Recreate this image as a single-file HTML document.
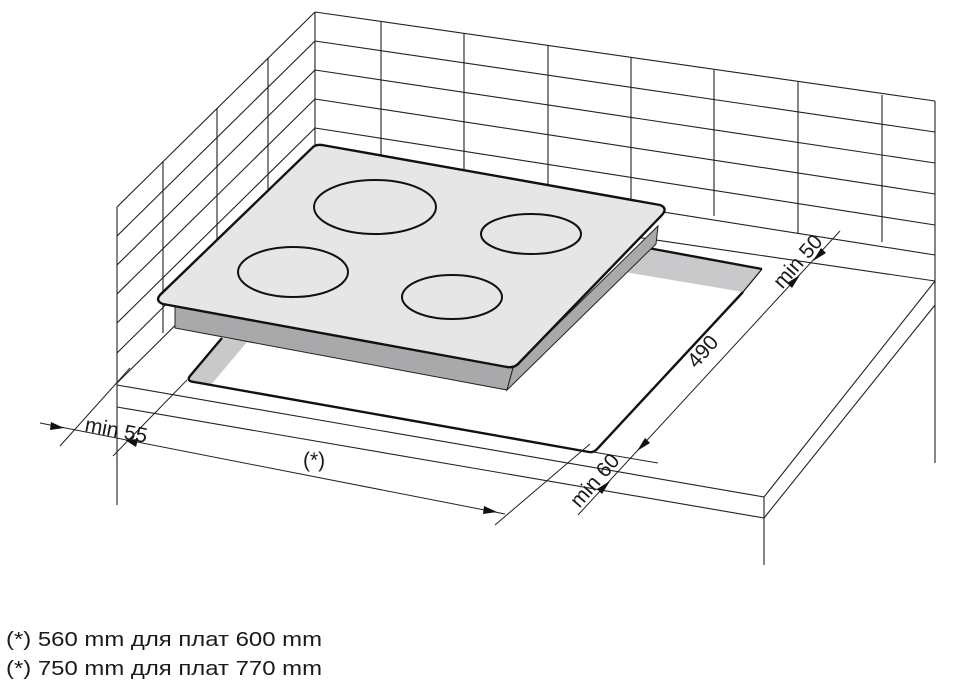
<!DOCTYPE html>
<html><head><meta charset="utf-8"><style>
html,body{margin:0;padding:0;background:#fff;}
svg{display:block;}
text{font-family:"Liberation Sans",Arial,sans-serif;fill:#1a1a1a;}
</style></head><body>
<svg width="956" height="689" viewBox="0 0 956 689" xmlns="http://www.w3.org/2000/svg">
<g stroke="#222" stroke-width="1.1" fill="none">
<line x1="315" y1="12" x2="935" y2="101"/>
<line x1="315" y1="41" x2="935" y2="132"/>
<line x1="315" y1="70" x2="935" y2="163"/>
<line x1="315" y1="99" x2="935" y2="194"/>
<line x1="315" y1="128" x2="935" y2="225"/>
<line x1="315" y1="157" x2="935" y2="255"/>
<line x1="315" y1="190" x2="935" y2="281"/>
<line x1="315" y1="12" x2="315" y2="190"/>
<line x1="381" y1="22" x2="381" y2="200"/>
<line x1="464" y1="34" x2="464" y2="212"/>
<line x1="548" y1="46" x2="548" y2="224"/>
<line x1="631" y1="58" x2="631" y2="236"/>
<line x1="714" y1="70" x2="714" y2="216"/>
<line x1="798" y1="82" x2="798" y2="234"/>
<line x1="882" y1="95" x2="882" y2="242"/>
<line x1="935" y1="101" x2="935" y2="463"/>
<line x1="315" y1="12" x2="117" y2="207"/>
<line x1="315" y1="41" x2="117" y2="236"/>
<line x1="315" y1="70" x2="117" y2="265"/>
<line x1="315" y1="99" x2="117" y2="294"/>
<line x1="315" y1="128" x2="117" y2="323"/>
<line x1="315" y1="157" x2="117" y2="353"/>
<line x1="315" y1="187" x2="117" y2="383"/>
<line x1="117" y1="207" x2="117" y2="505"/>
<line x1="163" y1="161" x2="163" y2="333"/>
<line x1="217" y1="108" x2="217" y2="283"/>
<line x1="268" y1="58" x2="268" y2="233"/>
<line x1="117" y1="385" x2="764" y2="497"/>
<line x1="117" y1="407" x2="764" y2="518"/>
<line x1="935" y1="281" x2="764" y2="497"/>
<line x1="935" y1="305" x2="764" y2="518"/>
<line x1="764" y1="497" x2="764" y2="565"/>
</g>
<polygon points="188,380 222,338 247,342 210,386" fill="#c9c9cb"/>
<polygon points="648,248 762,269 743,292 625,272" fill="#c9c9cb"/>
<path d="M222,338 L190,376 Q186,381 194,382 L589,452 Q594,453 598,448 L743,292 M762,269 L648,248" stroke="#111" stroke-width="2.4" fill="none"/>
<path d="M762,269 L743,292" stroke="#111" stroke-width="1.2"/>
<polygon points="175,306 175,328 507,390 513,368" fill="#a9a9ab" stroke="#222" stroke-width="1"/>
<polygon points="513,368 507,390 656,244 658,226" fill="#a9a9ab" stroke="#222" stroke-width="1"/>
<path d="M322,145 L660,205 Q668,208 662,215 L518,364 Q514,368 507,367 L163,304 Q155,301 160,295 L311,149 Q315,144 322,145 Z" fill="#e6e6e7" stroke="#111" stroke-width="2.4"/>
<g fill="none" stroke="#111" stroke-width="2">
<ellipse cx="375" cy="207" rx="61" ry="27"/>
<ellipse cx="531" cy="234" rx="50" ry="20"/>
<ellipse cx="293" cy="272" rx="55" ry="25"/>
<ellipse cx="452" cy="297" rx="50" ry="22"/>
</g>
<g stroke="#222" stroke-width="1" fill="none">
<line x1="840" y1="231" x2="578" y2="515"/>
<line x1="593" y1="452" x2="658" y2="463"/>
<line x1="40" y1="423" x2="505" y2="514"/>
<line x1="60" y1="446" x2="130" y2="368"/>
<line x1="113" y1="456" x2="187" y2="380"/>
<line x1="495" y1="525" x2="590" y2="444"/>
</g>
<g fill="#111">
<polygon points="813,261 821,248 826,253"/>
<polygon points="800,275 792,288 787,283"/>
<polygon points="637,451 645,438 650,443"/>
<polygon points="610,481 602,494 597,489"/>
<polygon points="64,428 51,422 50,430"/>
<polygon points="125,440 138,439 136,447"/>
<polygon points="497,512 484,506 483,514"/>
</g>
<g font-size="21">
<text x="0" y="0" transform="translate(84,431) rotate(11)">min 55</text>
<text x="303" y="467">(*)</text>
<text x="0" y="0" text-anchor="middle" transform="translate(708,356) rotate(-49)">490</text>
<text x="0" y="0" text-anchor="middle" transform="translate(803,266) rotate(-49)">min 50</text>
<text x="0" y="0" text-anchor="middle" transform="translate(600,485) rotate(-49)">min 60</text>
</g>
<text x="6" y="646" font-size="20" textLength="316" lengthAdjust="spacingAndGlyphs">(*) 560 mm для плат 600 mm</text>
<text x="6" y="675" font-size="20" textLength="316" lengthAdjust="spacingAndGlyphs">(*) 750 mm для плат 770 mm</text>
</svg>
</body></html>
